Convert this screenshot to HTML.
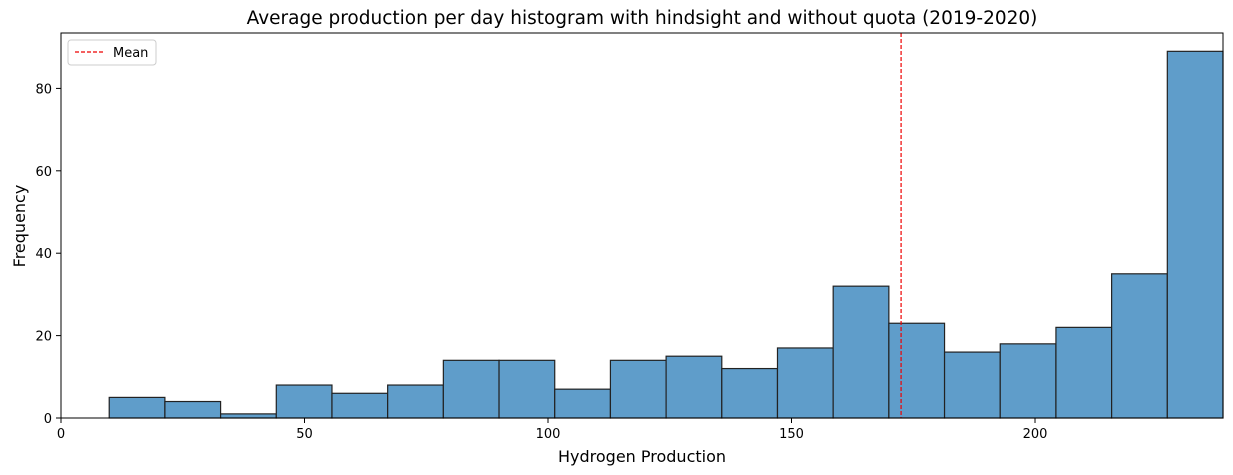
<!DOCTYPE html>
<html><head><meta charset="utf-8"><style>
body{margin:0;background:#fff;}
svg{display:block;font-family:"DejaVu Sans","Liberation Sans",sans-serif;}
</style></head><body>
<svg id="chart" width="1233" height="475" viewBox="0 0 1233 475" xmlns="http://www.w3.org/2000/svg">
<text x="642" y="24" text-anchor="middle" font-size="18.5" fill="#000">Average production per day histogram with hindsight and without quota (2019-2020)</text>
<g id="bars"></g>
<g id="xticks"></g>
<g id="yticks"></g>
<g id="meanline"></g>
<rect x="61" y="33" width="1162" height="385" fill="none" stroke="#000" stroke-width="1"/>
<text x="642" y="462" text-anchor="middle" font-size="16" fill="#000">Hydrogen Production</text>
<text transform="translate(25,226) rotate(-90)" text-anchor="middle" font-size="16" fill="#000">Frequency</text>
<g>
<rect x="68" y="40" width="88" height="25" rx="3" fill="#fff" stroke="#ccc"/>
<line x1="75" y1="52" x2="103" y2="52" stroke="#e00" stroke-width="1.2" stroke-dasharray="4,2"/>
<text x="113" y="57" font-size="13" fill="#000">Mean</text>
</g>
</svg>
<script>
const counts=[5,4,1,8,6,8,14,14,7,14,15,12,17,32,23,16,18,22,35,89];
const binStart=9.9;
const binWidth=11.435;
const meanValue=172.5;
const xTickLabels=[0,50,100,150,200];
const yTickLabels=[0,20,40,60,80];
const L=61,R=1223,T=33,B=418;
const xmax=binStart+binWidth*counts.length;
const ymax=Math.max(...counts)*1.05;
const xs=v=>L+(v/xmax)*(R-L);
const ys=v=>B-(v/ymax)*(B-T);
const NS="http://www.w3.org/2000/svg";
function mk(t,a,p){const e=document.createElementNS(NS,t);for(const k in a)e.setAttribute(k,a[k]);p.appendChild(e);return e;}
const bars=document.getElementById('bars');
counts.forEach((c,i)=>{
 const x0=xs(binStart+i*binWidth),x1=xs(binStart+(i+1)*binWidth);
 const r=mk('rect',{x:x0,y:ys(c),width:x1-x0,height:B-ys(c),fill:'#5f9dca',stroke:'#222','stroke-width':1.2},bars);
 
 
});
const xt=document.getElementById('xticks');
xTickLabels.forEach(v=>{
 const x=xs(v);
 mk('line',{x1:x,x2:x,y1:B,y2:B+5,stroke:'#000'},xt);
 const t=mk('text',{x:x,y:B+20,'text-anchor':'middle','font-size':13},xt);
 t.textContent=v;
 
 
});
const yt=document.getElementById('yticks');
yTickLabels.forEach(v=>{
 const y=ys(v);
 mk('line',{x1:L-5,x2:L,y1:y,y2:y,stroke:'#000'},yt);
 const t=mk('text',{x:L-9,y:y+5,'text-anchor':'end','font-size':13},yt);
 t.textContent=v;
 
 
});
const ml=mk('line',{x1:xs(meanValue),x2:xs(meanValue),y1:T,y2:B,stroke:'#e00','stroke-width':1.2,'stroke-dasharray':'4,2'},document.getElementById('meanline'));


</script>
</body></html>
